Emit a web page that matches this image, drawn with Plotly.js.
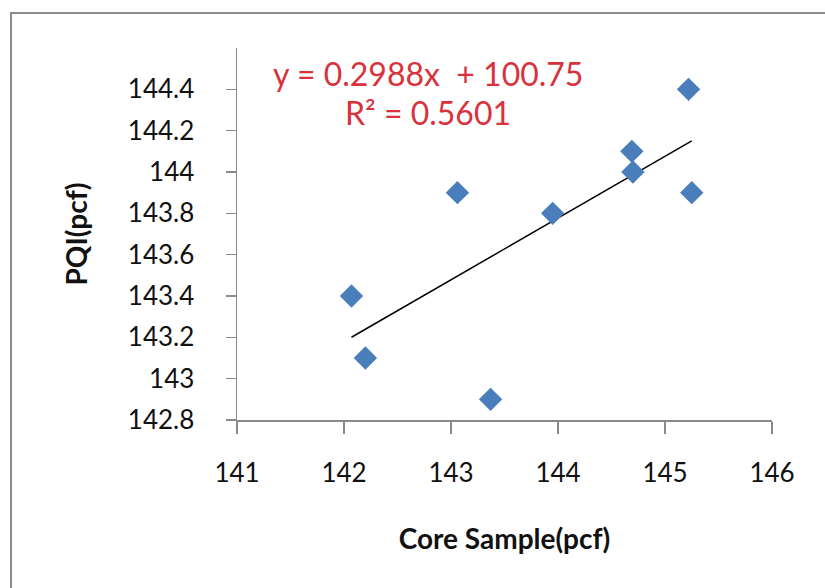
<!DOCTYPE html>
<html>
<head>
<meta charset="utf-8">
<script src="https://cdn.plot.ly/plotly-3.0.1.min.js"></script>
<style>html,body{margin:0;padding:0;background:#fff;}#chart{width:825px;height:588px;}</style>
</head>
<body>
<div id="chart"></div>
<script>
// Data
const coreSample = [142.07, 142.2, 143.06, 143.37, 143.95, 144.69, 144.7, 145.22, 145.25];
const pqi        = [143.4, 143.1, 143.9, 142.9, 143.8, 144.1, 144.0, 144.4, 143.9];
const xTickVals  = [141, 142, 143, 144, 145, 146];
const yTickVals  = [142.8, 143, 143.2, 143.4, 143.6, 143.8, 144, 144.2, 144.4];
const yTickText  = ['142.8', '143', '143.2', '143.4', '143.6', '143.8', '144', '144.2', '144.4'];
const trendSlope = 0.2988;
const trendIntercept = 100.75;
const rSquared = '0.5601';

const xMin = Math.min(...coreSample), xMax = Math.max(...coreSample);
const trendX = [xMin, xMax];
const trendY = trendX.map(v => trendSlope * v + trendIntercept);

const FONT = 'Lato, "Open Sans", sans-serif';

const traces = [
  {
    x: trendX, y: trendY, type: 'scatter', mode: 'lines',
    line: {color: '#000000', width: 1.5}, hoverinfo: 'skip'
  },
  {
    x: coreSample, y: pqi, type: 'scatter', mode: 'markers',
    marker: {symbol: 'diamond', size: 18, color: '#4a7ebb', line: {width: 0}}
  }
];

const layout = {
  width: 825, height: 588,
  margin: {l: 237, r: 53, t: 48, b: 168},
  paper_bgcolor: '#ffffff', plot_bgcolor: '#ffffff',
  showlegend: false,
  font: {family: FONT, color: '#111111'},
  xaxis: {
    range: [141, 146], tickvals: xTickVals, ticktext: xTickVals.map(String),
    ticks: 'outside', ticklen: 12, tickwidth: 1.5, tickcolor: '#8a8a8a',
    showline: true, linecolor: '#8a8a8a', linewidth: 1.5,
    showgrid: false, zeroline: false, fixedrange: true,
    tickfont: {family: FONT, size: 26, color: '#111111'},
    ticklabelstandoff: 17,
    title: {text: '<b>Core Sample(pcf)</b>', font: {family: FONT, size: 28, color: '#111111'}, standoff: 42}
  },
  yaxis: {
    range: [142.8, 144.6], tickvals: yTickVals, ticktext: yTickText,
    ticks: 'outside', ticklen: 10, tickwidth: 1.5, tickcolor: '#8a8a8a',
    showline: true, linecolor: '#8a8a8a', linewidth: 1.5,
    showgrid: false, zeroline: false, fixedrange: true,
    tickfont: {family: FONT, size: 26, color: '#111111'},
    ticklabelstandoff: 26,
    title: {text: '<b>PQI(pcf)</b>', font: {family: FONT, size: 28, color: '#111111'}, standoff: 32}
  },
  annotations: [
    {
      x: 142.785, y: 144.475, xref: 'x', yref: 'y', showarrow: false,
      text: 'y = ' + trendSlope + 'x  + ' + trendIntercept,
      font: {family: FONT, size: 32, color: '#d8323c'}, xanchor: 'center', yanchor: 'middle'
    },
    {
      x: 142.785, y: 144.29, xref: 'x', yref: 'y', showarrow: false,
      text: 'R\u00b2 = ' + rSquared,
      font: {family: FONT, size: 32, color: '#d8323c'}, xanchor: 'center', yanchor: 'middle'
    }
  ],
  shapes: [
    {
      type: 'rect', xref: 'paper', yref: 'paper',
      x0: (11 - 237) / 535, x1: 3, y0: -3, y1: 1 + (48 - 13) / 372,
      line: {color: '#8c8c8c', width: 2}, fillcolor: 'rgba(0,0,0,0)', layer: 'below'
    }
  ]
};

Plotly.newPlot('chart', traces, layout, {displayModeBar: false, staticPlot: true});
</script>
</body>
</html>
